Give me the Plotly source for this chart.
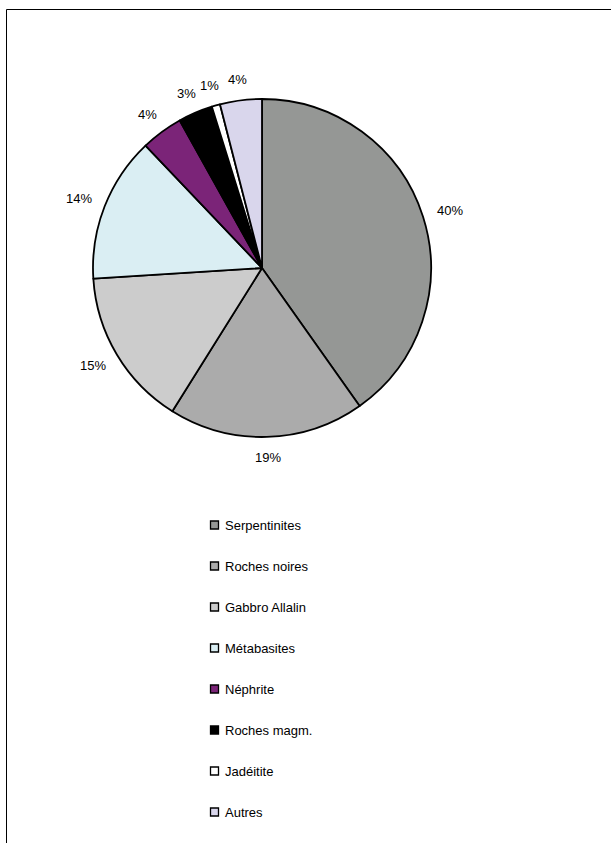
import math
import plotly.graph_objects as go

# Rock types and their share of the assemblage (%)
categories = ["Serpentinites", "Roches noires", "Gabbro Allalin", "Métabasites",
              "Néphrite", "Roches magm.", "Jadéitite", "Autres"]
values = [40.2, 18.7, 15.1, 13.9, 4.0, 3.3, 0.8, 4.0]
colors = ["#959795", "#ababab", "#cccccc", "#daeef3",
          "#7b2478", "#000000", "#ffffff", "#d9d6ec"]

W, H = 611, 843
CX, CY, R = 262, 268, 169          # pie centre and radius in pixels
FONT = dict(family="Arial, Liberation Sans, sans-serif", size=13, color="#000000")


def px(x):
    return x / W


def py(y):
    return 1 - y / H


fig = go.Figure()
fig.add_trace(go.Pie(
    labels=categories,
    values=values,
    sort=False,
    direction="clockwise",
    rotation=0,
    marker=dict(colors=colors, line=dict(color="#000000", width=1.8)),
    textinfo="none",
    hoverinfo="label+percent",
    showlegend=False,
    domain=dict(x=[px(CX - R), px(CX + R)], y=[py(CY + R), py(CY - R)]),
))

annotations = []
shapes = []

# percentage labels outside each slice
total = sum(values)
cum = 0.0
for v in values:
    mid = (cum + v / 2) / total * 2 * math.pi
    cum += v
    ux, uy = math.sin(mid), -math.cos(mid)
    text = f"{round(v / total * 100)}%"
    tw, th = 8.7 * len(text), 12
    dist = R + 15
    lx = CX + dist * ux + ux * tw / 2
    ly = CY + dist * uy + uy * th / 2
    annotations.append(dict(x=px(lx), y=py(ly), xref="paper", yref="paper",
                            text=text, showarrow=False, font=FONT,
                            xanchor="center", yanchor="middle"))

# vertical legend below the pie
row0, gap = 525, 41
for i, (name, col) in enumerate(zip(categories, colors)):
    yc = row0 + i * gap
    shapes.append(dict(type="rect", xref="paper", yref="paper",
                       x0=px(210.5), x1=px(218.5), y0=py(yc + 4), y1=py(yc - 4),
                       fillcolor=col, line=dict(color="#000000", width=1.3)))
    annotations.append(dict(x=px(223), y=py(yc), xref="paper", yref="paper",
                            text=name, showarrow=False, font=FONT,
                            xanchor="left", yanchor="middle"))

# chart area frame
shapes.append(dict(type="rect", xref="paper", yref="paper",
                   x0=px(6.5), x1=px(W + 10), y0=py(H + 10), y1=py(9.5),
                   line=dict(color="#000000", width=1), fillcolor="rgba(0,0,0,0)"))

fig.update_layout(
    width=W, height=H,
    margin=dict(l=0, r=0, t=0, b=0),
    paper_bgcolor="#ffffff",
    plot_bgcolor="#ffffff",
    annotations=annotations,
    shapes=shapes,
)

fig.write_html("out.html")
